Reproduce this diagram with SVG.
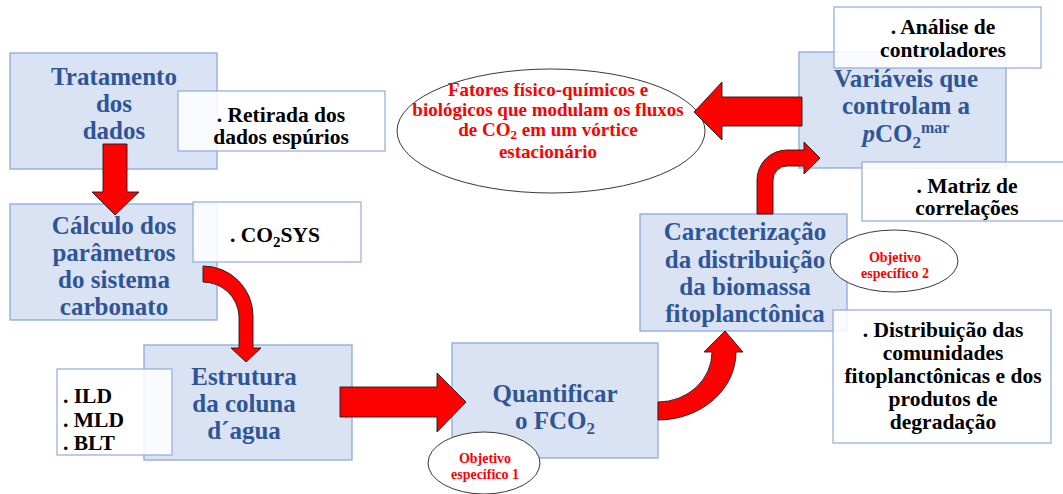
<svg xmlns="http://www.w3.org/2000/svg" width="1063" height="494" viewBox="0 0 1063 494" font-family="'Liberation Serif', 'DejaVu Serif', serif">
<defs>
<style>
.box{fill:#dae3f3;stroke:#8eaadb;stroke-width:1.3}
.note{fill:#ffffff;fill-opacity:0.86;stroke:#8faadc;stroke-width:1.2}
.oval{fill:#ffffff;stroke:#222;stroke-width:0.9}
text{font-family:'Liberation Serif','DejaVu Serif',serif;font-weight:bold}
.bt{font-size:25px;fill:#2f5597;text-anchor:middle}
.nt{font-size:21.5px;fill:#000;text-anchor:middle}
.rt{font-size:19px;fill:#ff0000;text-anchor:middle}
.st{font-size:14px;fill:#ff0000;text-anchor:middle}
.arr{fill:#ff0000;stroke:#1a1a1a;stroke-width:0.9;stroke-linejoin:miter}
</style>
</defs>
<rect width="1063" height="494" fill="#ffffff"/>

<g id="n-tratamento">
<rect class="box" x="10" y="53" width="207" height="116"/>
<text class="bt" x="114" y="85">Tratamento</text>
<text class="bt" x="114" y="112">dos</text>
<text class="bt" x="114" y="139">dados</text>
</g>
<g id="n-retirada">
<rect class="note" x="178" y="91" width="207" height="60"/>
<text class="nt" x="281" y="122">. Retirada dos</text>
<text class="nt" x="281" y="144">dados espúrios</text>
</g>

<g id="n-calculo">
<rect class="box" x="10" y="204" width="207" height="116"/>
<text class="bt" x="114" y="234">Cálculo dos</text>
<text class="bt" x="114" y="261">parâmetros</text>
<text class="bt" x="114" y="288">do sistema</text>
<text class="bt" x="114" y="315">carbonato</text>
</g>
<g id="n-co2sys">
<rect class="note" x="193" y="202" width="168" height="60"/>
<text class="nt" x="230" y="242" style="text-anchor:start">. CO<tspan font-size="15" dy="5">2</tspan><tspan dy="-5">SYS</tspan></text>
</g>

<g id="n-estrutura">
<rect class="box" x="144" y="345" width="208" height="115"/>
<text class="bt" x="244" y="385">Estrutura</text>
<text class="bt" x="244" y="412">da coluna</text>
<text class="bt" x="244" y="439">d´agua</text>
</g>
<g id="n-ild">
<rect class="note" x="57" y="369" width="115" height="86"/>
<text class="nt" x="63" y="403" style="text-anchor:start">. ILD</text>
<text class="nt" x="63" y="427" style="text-anchor:start">. MLD</text>
<text class="nt" x="63" y="450" style="text-anchor:start">. BLT</text>
</g>

<g id="n-quantificar">
<rect class="box" x="452" y="343" width="206" height="115"/>
<text class="bt" x="555" y="402">Quantificar</text>
<text class="bt" x="555" y="429">o FCO<tspan font-size="17" dy="5">2</tspan></text>
</g>
<g id="n-objetivo1">
<ellipse class="oval" cx="484" cy="463" rx="56" ry="31"/>
<text class="st" x="485" y="463">Objetivo</text>
<text class="st" x="485" y="479">específico 1</text>
</g>

<g id="n-caracterizacao">
<rect class="box" x="640" y="214" width="207" height="117"/>
<text class="bt" x="745" y="240">Caracterização</text>
<text class="bt" x="745" y="268">da distribuição</text>
<text class="bt" x="745" y="295">da biomassa</text>
<text class="bt" x="745" y="322">fitoplanctônica</text>
</g>
<g id="n-objetivo2">
<ellipse class="oval" cx="894" cy="261" rx="64" ry="31"/>
<text class="st" x="895" y="262">Objetivo</text>
<text class="st" x="895" y="278">específico 2</text>
</g>
<g id="n-distribuicao">
<rect class="note" x="833" y="310" width="218" height="133"/>
<text class="nt" x="943" y="337">. Distribuição das</text>
<text class="nt" x="943" y="360">comunidades</text>
<text class="nt" x="943" y="383">fitoplanctônicas e dos</text>
<text class="nt" x="943" y="406">produtos de</text>
<text class="nt" x="943" y="429">degradação</text>
</g>

<g id="n-variaveis">
<rect class="box" x="799" y="52" width="207" height="116"/>
<text class="bt" x="906" y="87">Variáveis que</text>
<text class="bt" x="906" y="114">controlam a</text>
<text class="bt" x="906" y="142"><tspan font-style="italic">p</tspan>CO<tspan font-size="17" dy="6">2</tspan><tspan font-size="16" dy="-15">mar</tspan></text>
</g>
<g id="n-analise">
<rect class="note" x="834" y="7" width="207" height="61"/>
<text class="nt" x="943" y="34">. Análise de</text>
<text class="nt" x="943" y="57">controladores</text>
</g>
<g id="n-matriz">
<rect class="note" x="862" y="162" width="205" height="59"/>
<text class="nt" x="967" y="193">. Matriz de</text>
<text class="nt" x="967" y="215">correlações</text>
</g>

<g id="n-fatores">
<ellipse class="oval" cx="551" cy="131" rx="154" ry="62"/>
<text class="rt" x="548" y="96">Fatores físico-químicos e</text>
<text class="rt" x="548" y="116">biológicos que modulam os fluxos</text>
<text class="rt" x="548" y="136">de CO<tspan font-size="13" dy="3">2</tspan><tspan dy="-3"> em um vórtice</tspan></text>
<text class="rt" x="548" y="158">estacionário</text>
</g>

<g id="connectors">
<path class="arr" d="M103,144 L127,144 L127,192 L139,192 L115,215 L92,192 L103,192 Z"/>
<path class="arr" d="M203,266 A50,50 0 0 1 253,316 L253,348 L261,348 L246,362 L231,348 L239,348 L239,316 A36,36 0 0 0 203,282 Z"/>
<path class="arr" d="M340,387 L437,387 L437,373 L466,402 L437,432 L437,417 L340,417 Z"/>
<path class="arr" d="M658,420 A78,68 0 0 0 736,352 L743,352 L725,331 L704,352 L712,352 A54,50 0 0 1 658,402 Z"/>
<path class="arr" d="M757,214 L757,180 A30,30 0 0 1 787,150 L804,150 L804,142 L820,158 L804,174 L804,166 L787,166 A14,14 0 0 0 773,180 L773,214 Z"/>
<path class="arr" d="M802,97 L722,97 L722,82 L694,112 L722,140 L722,126 L802,126 Z"/>
</g>
</svg>
